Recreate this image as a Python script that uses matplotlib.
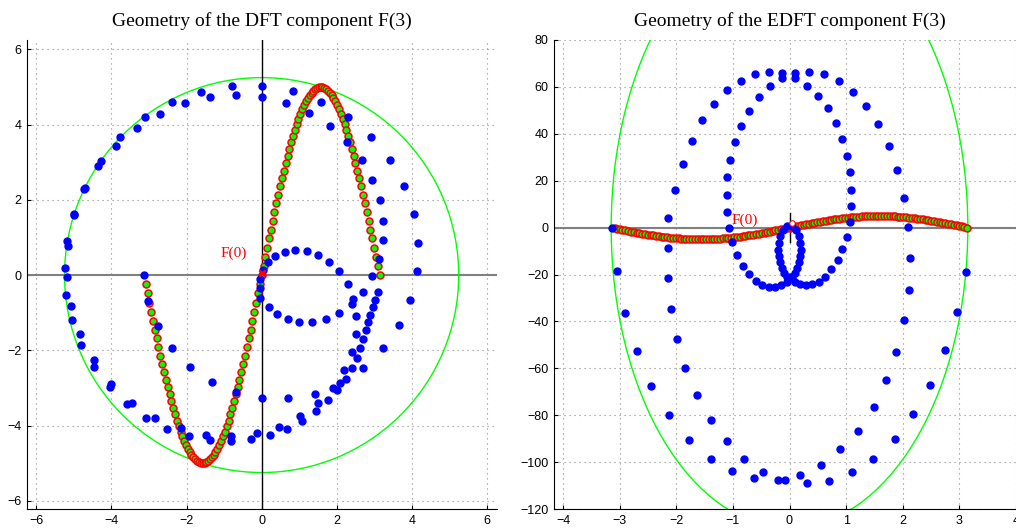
import matplotlib
matplotlib.use("Agg")
import matplotlib.pyplot as plt
from matplotlib.patches import Circle, Ellipse

# sampled signal drawn as red/green markers in both panels
curve_x = [-3.09, -3.04, -2.99, -2.95, -2.90, -2.85, -2.80, -2.75, -2.70, -2.65,
           -2.60, -2.55, -2.50, -2.45, -2.41, -2.36, -2.31, -2.26, -2.21, -2.16,
           -2.11, -2.06, -2.01, -1.96, -1.91, -1.87, -1.82, -1.77, -1.72, -1.67,
           -1.62, -1.57, -1.52, -1.47, -1.42, -1.37, -1.33, -1.28, -1.23, -1.18,
           -1.13, -1.08, -1.03, -0.98, -0.93, -0.88, -0.83, -0.79, -0.74, -0.69,
           -0.64, -0.59, -0.54, -0.49, -0.44, -0.39, -0.34, -0.29, -0.25, -0.20,
           -0.15, -0.10, -0.05, 0.00,
           0.05, 0.10, 0.15, 0.20, 0.25, 0.29, 0.34, 0.39, 0.44, 0.49,
           0.54, 0.59, 0.64, 0.69, 0.74, 0.79, 0.83, 0.88, 0.93, 0.98,
           1.03, 1.08, 1.13, 1.18, 1.23, 1.28, 1.33, 1.37, 1.42, 1.47,
           1.52, 1.57, 1.62, 1.67, 1.72, 1.77, 1.82, 1.87, 1.91, 1.96,
           2.01, 2.06, 2.11, 2.16, 2.21, 2.26, 2.31, 2.36, 2.41, 2.45,
           2.50, 2.55, 2.60, 2.65, 2.70, 2.75, 2.80, 2.85, 2.90, 2.95,
           2.99, 3.04, 3.09, 3.14]
curve_y = [-0.25, -0.49, -0.73, -0.98, -1.21, -1.45, -1.68, -1.91, -2.14, -2.36,
           -2.57, -2.78, -2.98, -3.17, -3.36, -3.54, -3.70, -3.87, -4.02, -4.16,
           -4.29, -4.41, -4.52, -4.62, -4.71, -4.78, -4.85, -4.90, -4.95, -4.98,
           -4.99, -5.00, -4.99, -4.98, -4.95, -4.90, -4.85, -4.78, -4.71, -4.62,
           -4.52, -4.41, -4.29, -4.16, -4.02, -3.87, -3.70, -3.54, -3.36, -3.17,
           -2.98, -2.78, -2.57, -2.36, -2.14, -1.91, -1.68, -1.45, -1.21, -0.98,
           -0.73, -0.49, -0.25, 0.00,
           0.25, 0.49, 0.73, 0.98, 1.21, 1.45, 1.68, 1.91, 2.14, 2.36,
           2.57, 2.78, 2.98, 3.17, 3.36, 3.54, 3.70, 3.87, 4.02, 4.16,
           4.29, 4.41, 4.52, 4.62, 4.71, 4.78, 4.85, 4.90, 4.95, 4.98,
           4.99, 5.00, 4.99, 4.98, 4.95, 4.90, 4.85, 4.78, 4.71, 4.62,
           4.52, 4.41, 4.29, 4.16, 4.02, 3.87, 3.70, 3.54, 3.36, 3.17,
           2.98, 2.78, 2.57, 2.36, 2.14, 1.91, 1.68, 1.45, 1.21, 0.98,
           0.73, 0.49, 0.25, 0.00]

# blue points, DFT panel
dft_points = [
    (-5.24, 0.20), (-5.18, -0.04), (-5.18, 0.91), (-5.16, 0.76), (-5.00, 1.59),
    (-4.99, 1.62), (-4.72, 2.29), (-4.70, 2.32), (-4.35, 2.90), (-4.29, 3.03),
    (-3.87, 3.44), (-3.76, 3.66), (-3.32, 3.91), (-3.11, 4.19), (-2.70, 4.29),
    (-2.38, 4.60), (-2.05, 4.57), (-1.61, 4.88), (-1.37, 4.73), (-0.79, 5.03),
    (-0.67, 4.79), (0.02, 5.03), (0.00, 4.73), (0.83, 4.89), (0.66, 4.57),
    (1.26, 4.32), (1.59, 4.61), (1.81, 3.97), (2.30, 4.21), (2.28, 3.55),
    (2.92, 3.68), (2.67, 3.07), (3.43, 3.07), (2.95, 2.54), (3.80, 2.37),
    (3.15, 2.00), (4.05, 1.63), (3.24, 1.45), (4.17, 0.86), (3.23, 0.92),
    (3.13, 0.42), (4.14, 0.10), (2.95, -0.03), (-3.14, 0.00),
    (-5.20, -0.52), (-5.07, -0.83), (-5.05, -1.20), (-4.83, -1.58), (-4.81, -1.86),
    (-4.46, -2.27), (-4.47, -2.44), (-4.00, -2.89), (-4.05, -2.98), (-3.58, -3.42),
    (-3.44, -3.40), (-3.07, -3.80), (-2.84, -3.80), (-2.52, -4.09), (-2.38, -1.95),
    (-2.76, -1.36), (-3.02, -0.69), (-2.16, -4.07), (-1.94, -4.28), (-1.90, -2.45),
    (-1.49, -4.24), (-1.38, -4.39), (-1.32, -2.85), (-0.81, -4.28), (-0.81, -4.41),
    (-0.67, -3.12), (-0.28, -4.37), (-0.13, -4.21),
    (2.07, 0.10), (1.80, 0.36), (1.51, 0.54), (1.20, 0.65), (0.90, 0.67),
    (0.61, 0.62), (0.36, 0.51), (0.17, 0.34), (0.03, 0.13), (-0.04, -0.10),
    (-0.05, -0.35), (-0.03, -0.60), (0.20, -0.84), (0.42, -1.04), (0.69, -1.17),
    (1.00, -1.24), (1.34, -1.24), (1.72, -1.16), (2.07, -1.00), (2.29, -0.24),
    (2.42, -0.76), (2.44, -0.64), (2.71, -0.44), (2.52, -1.08), (3.09, -0.46),
    (3.03, -0.67), (2.98, -0.85), (2.90, -1.05), (2.84, -1.25), (2.77, -1.46),
    (2.71, -1.69), (2.52, -1.56), (2.62, -1.94), (2.41, -2.04), (2.53, -2.20),
    (2.41, -2.47), (2.71, -2.46), (2.20, -2.53), (2.24, -2.76), (2.09, -2.86),
    (1.91, -3.00), (2.02, -3.05), (1.77, -3.33), (1.43, -3.15), (1.51, -3.41),
    (1.46, -3.62), (1.02, -3.76), (1.08, -3.88), (0.71, -3.28), (0.01, -3.27),
    (0.68, -4.09), (0.47, -4.04), (0.22, -4.26), (3.96, -0.65), (3.66, -1.34),
    (3.24, -1.95),
]

# blue points, EDFT panel
edft_points = [
    (-3.14, 0.0), (-3.05, -18.7), (-2.91, -36.4), (-2.70, -52.7), (-2.44, -67.4),
    (-2.12, -80.0), (-1.77, -90.4), (-1.39, -98.5), (-1.02, -104.0), (-0.62, -106.9),
    (-0.21, -107.5), (0.18, -105.4),
    (-2.14, 4.1), (-2.14, -8.5), (-2.14, -21.4), (-2.09, -34.5), (-1.98, -47.5),
    (-1.84, -60.0), (-1.64, -71.5), (-1.39, -82.0), (-1.11, -91.1), (-0.81, -98.6),
    (-0.46, -104.1), (-0.08, -107.7), (0.31, -108.9), (0.70, -107.9), (1.10, -104.4),
    (1.48, -98.7), (1.86, -90.3), (2.19, -79.7), (2.49, -67.1), (2.75, -52.4),
    (2.96, -36.2), (3.11, -18.9),
    (0.55, -101.1), (0.90, -94.6), (1.21, -86.6), (1.49, -76.3), (1.71, -65.1),
    (1.89, -52.9), (2.02, -39.6), (2.11, -26.4), (2.13, -12.8), (2.10, 0.3),
    (2.02, 12.8), (1.90, 24.5), (1.76, 35.0), (1.56, 44.2), (1.35, 51.9),
    (1.12, 57.9), (0.87, 62.4), (0.61, 65.3), (0.35, 66.4), (0.10, 66.0),
    (-0.13, 66.0), (-0.37, 66.2), (-0.61, 65.3), (-0.86, 62.7), (-1.10, 58.5),
    (-1.33, 52.9), (-1.54, 45.7), (-1.73, 37.1), (-1.89, 27.2), (-2.02, 16.1),
    (0.09, 63.7), (-0.13, 63.7), (-0.35, 60.3), (-0.54, 55.6), (-0.71, 49.9),
    (-0.85, 43.4), (-0.96, 36.4), (-1.05, 29.0), (-1.10, 21.5), (-1.11, 13.9),
    (-1.11, 6.7), (-1.06, 0.0), (-1.01, -6.1), (-0.92, -11.7), (-0.82, -16.2),
    (-0.72, -19.9), (-0.60, -22.7), (-0.49, -24.4), (-0.37, -25.3), (-0.26, -25.3),
    (-0.15, -24.4), (-0.05, -23.0), (0.01, -21.0), (0.09, -23.0), (0.18, -24.1),
    (0.29, -24.4), (0.40, -24.1), (0.52, -23.0), (0.63, -20.9), (0.74, -17.8),
    (0.85, -13.8), (0.93, -9.2), (1.01, -3.8), (1.06, 2.4), (1.09, 9.1),
    (1.09, 16.2), (1.06, 23.5), (1.01, 30.7), (0.93, 37.8), (0.82, 44.7),
    (0.68, 50.8), (0.51, 56.2), (0.31, 60.5),
    (-0.05, 0.5), (0.05, 0.5),
    (-0.11, -0.9), (-0.16, -3.7), (-0.19, -6.5), (-0.20, -9.4), (-0.19, -12.2),
    (-0.17, -14.8), (-0.14, -17.2), (-0.09, -19.3), (-0.04, -21.2),
    (0.11, -0.9), (0.16, -3.7), (0.19, -6.5), (0.20, -9.4), (0.19, -12.2),
    (0.17, -14.8), (0.13, -17.2), (0.09, -19.3), (0.04, -21.2),
]

dft_radius = 5.25
edft_ellipse = (6.3, 256)   # full width, full height
titles = ['Geometry of the DFT component F(3)', 'Geometry of the EDFT component F(3)']

plt.rcParams['font.family'] = 'Liberation Sans'
fig = plt.figure(figsize=(10.16, 5.29), dpi=100)
ax1 = fig.add_axes([27 / 1016, 20 / 529, 470 / 1016, 469 / 529])
ax2 = fig.add_axes([554 / 1016, 20 / 529, 471 / 1016, 469 / 529])

for ax, title in zip([ax1, ax2], titles):
    ax.grid(True, linestyle=(0, (1, 3.5)), color='#8a8a8a', linewidth=0.8)
    ax.set_axisbelow(True)
    ax.tick_params(direction='in', length=3, labelsize=9, pad=4)
    ax.spines['top'].set_visible(False)
    ax.spines['right'].set_visible(False)
    ax.set_title(title, family='Liberation Serif', fontsize=14, pad=10)
    ax.axhline(0, color='#808080', lw=1.5, zorder=1)
    ax.plot(curve_x, curve_y, 'o', ms=5, mfc='#00ff00', mec='red', mew=1.1, zorder=2)

# left panel
ax1.add_patch(Circle((0, 0), dft_radius, fill=False, ec='#00ff00', lw=1, zorder=1))
ax1.axvline(0, color='k', lw=1, zorder=1)
ax1.plot([p[0] for p in dft_points], [p[1] for p in dft_points], 'o',
         color='#0000ff', ms=5, zorder=3)
ax1.plot([0], [0.05], 'x', color='red', ms=5, mew=1.8, zorder=4)
ax1.text(-1.1, 0.58, 'F(0)', color='red', family='Liberation Serif', fontsize=11,
         va='center')
ax1.set_xlim(-6.25, 6.27)
ax1.set_ylim(-6.22, 6.25)
ax1.set_xticks(range(-6, 7, 2))
ax1.set_yticks(range(-6, 7, 2))

# right panel
ax2.add_patch(Ellipse((0, 0), edft_ellipse[0], edft_ellipse[1], fill=False,
                      ec='#00ff00', lw=1, zorder=1))
ax2.plot([0, 0], [-6, 6.3], color='k', lw=1, zorder=1)
ax2.plot([p[0] for p in edft_points], [p[1] for p in edft_points], 'o',
         color='#0000ff', ms=5, zorder=3)
ax2.plot([0.04], [2.0], 'o', mfc='white', mec='red', ms=4, mew=0.8, zorder=4)
ax2.text(-1.02, 3.0, 'F(0)', color='red', family='Liberation Serif', fontsize=11,
         va='center')
ax2.set_xlim(-4.16, 4.16)
ax2.set_ylim(-120, 80)
ax2.set_xticks(range(-4, 5))
ax2.set_yticks(range(-120, 81, 20))

fig.savefig('out.png', dpi=100)
